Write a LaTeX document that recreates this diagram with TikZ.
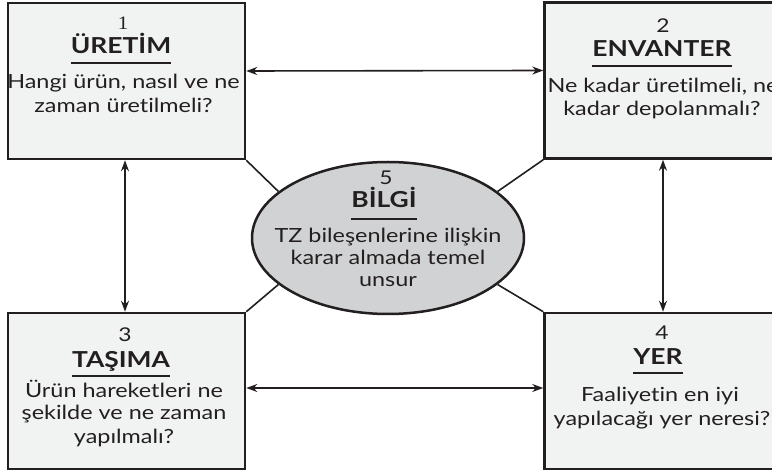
\documentclass[tikz,border=0pt]{standalone}
\usepackage{fontspec}
\setmainfont{Lato}[FakeStretch=1.2, Ligatures=NoCommon]
\newfontfamily\numserif{Liberation Serif}[FakeStretch=1.1]
\usetikzlibrary{arrows.meta,shapes.geometric}
\definecolor{linec}{HTML}{231F20}
\definecolor{boxfill}{HTML}{F1F2F2}
\definecolor{ellfill}{HTML}{D1D2D3}
\tikzset{
  box/.style={draw=linec, line width=2.5pt, fill=boxfill, minimum width=237pt, minimum height=156pt, inner sep=0pt},
  ell/.style={draw=linec, line width=2.5pt, fill=ellfill, ellipse, minimum width=272pt, minimum height=152pt, inner sep=0pt},
  num/.style={text=linec, font=\fontsize{19}{21}\selectfont, inner sep=0pt, anchor=base},
  ttl/.style={text=linec, font=\bfseries\fontsize{22}{24}\selectfont, inner sep=0pt, anchor=base},
  body/.style={text=linec, font=\fontsize{19.5}{23}\selectfont, inner sep=0pt, anchor=base},
  uline/.style={draw=linec, line width=2pt},
  conn/.style={draw=linec, line width=1.6pt},
  arr/.style={conn, {Stealth[length=11pt,width=8pt]}-{Stealth[length=11pt,width=8pt]}}
}
\begin{document}
\begin{tikzpicture}[x=1pt,y=-1pt]
\useasboundingbox (0,0) rectangle (772,473);
\clip (0,0) rectangle (772,473);
\fill[white] (0,0) rectangle (772,473);
% boxes
\node[box] (b1) at (126.5,81) {};
\node[box] (b2) at (663,80.5) {};
\node[box] (b3) at (126.5,391) {};
\node[box] (b4) at (663,391) {};
\node[ell] (e) at (388,238) {};
% diagonal connectors
\draw[conn] (b1.south east) -- (e.157);
\draw[conn] (b2.south west) -- (e.23);
\draw[conn] (b3.north east) -- (e.-157);
\draw[conn] (b4.north west) -- (e.-23);
% arrows
\draw[arr] ([yshift=10pt]b1.east) -- ([yshift=10pt]b2.west);
\draw[arr] ([yshift=3pt]b3.east) -- ([yshift=3pt]b4.west);
\draw[arr] ([xshift=-1.5pt]b1.south) -- ([xshift=-1.5pt]b3.north);
\draw[arr] (b2.south) -- (b4.north);
% box 1 texts
\node[num] (n1) at (123,30) {\numserif 1};
\node[ttl] (t1) at (121,54) {ÜRETİM};
\draw[uline] (t1.west |- 0,63) -- (t1.east |- 0,63);
\node[body] (x1a) at (123.5,89) {Hangi ürün, nasıl ve ne};
\node[body] (x1b) at (123.5,113) {zaman üretilmeli?};
% box 2 texts
\node[num] (n2) at (663,33) {2};
\node[ttl] (t2) at (662,57) {ENVANTER};
\draw[uline] (t2.west |- 0,66) -- (t2.east |- 0,66);
\node[body] (x2a) at (663,93) {Ne kadar üretilmeli, ne};
\node[body] (x2b) at (662,116) {kadar depolanmalı?};
% box 3 texts
\node[num] (n3) at (125,342) {3};
\node[ttl] (t3) at (121,367) {TAŞIMA};
\draw[uline] (t3.west |- 0,376) -- (t3.east |- 0,376);
\node[body] (x3a) at (124,397) {Ürün hareketleri ne};
\node[body] (x3b) at (124,420) {şekilde ve ne zaman};
\node[body] (x3c) at (124,443) {yapılmalı?};
% box 4 texts
\node[num] (n4) at (662,340) {4};
\node[ttl] (t4) at (658,365) {YER};
\draw[uline] (t4.west |- 0,373) -- (t4.east |- 0,373);
\node[body] (x4a) at (660,402) {Faaliyetin en iyi};
\node[body] (x4b) at (662,425) {yapılacağı yer neresi?};
% ellipse texts
\node[num] (n5) at (386,185) {5};
\node[ttl] (t5) at (384,208) {BİLGİ};
\draw[uline] (t5.west |- 0,219) -- (t5.east |- 0,219);
\node[body] (x5a) at (388,243) {TZ bileşenlerine ilişkin};
\node[body] (x5b) at (388,265) {karar almada temel};
\node[body] (x5c) at (388,287) {unsur};
\end{tikzpicture}
\end{document}
